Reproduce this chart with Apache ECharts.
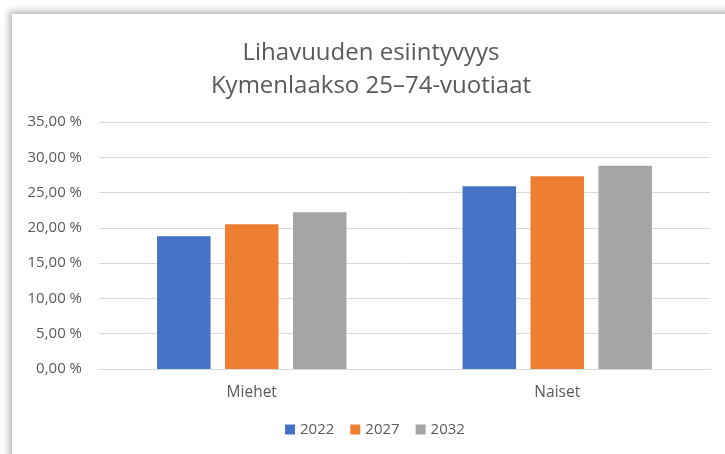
<!DOCTYPE html>
<html>
<head>
<meta charset="utf-8">
<script src="https://cdn.jsdelivr.net/npm/echarts@6/dist/echarts.min.js"></script>
<style>
  html, body { margin: 0; padding: 0; background: #fff; }
  #frame {
    position: absolute; left: 12px; top: 14px; width: 740px; height: 470px;
    background: #fff; box-shadow: -3px -3px 7px rgba(0,0,0,0.28);
  }
  #main { position: absolute; left: 0; top: 0; width: 725px; height: 454px; }
</style>
</head>
<body>
<div id="frame"></div>
<div id="main"></div>
<script>
// luokat ja sarjat
var categories = ["Miehet", "Naiset"];
var years = ["2022", "2027", "2032"];
var v2022 = [18.8, 25.9];
var v2027 = [20.5, 27.3];
var v2032 = [22.2, 28.8];
var yTicks = [0, 5, 10, 15, 20, 25, 30, 35];

var fontFam = "'Open Sans', Lato, sans-serif";
var textCol = "#595959";

var chart = echarts.init(document.getElementById("main"));

var option = {
  backgroundColor: "transparent",
  animation: false,
  color: ["#4472C4", "#ED7D31", "#A5A5A5"],
  title: {
    text: "Lihavuuden esiintyvyys\nKymenlaakso 25\u201374-vuotiaat",
    left: 366,
    top: 32,
    textAlign: "center",
    textStyle: {
      fontFamily: fontFam,
      fontWeight: "normal",
      fontSize: 24,
      lineHeight: 33,
      color: textCol
    }
  },
  legend: {
    data: years,
    bottom: 12,
    left: 280,
    itemWidth: 10,
    itemHeight: 10,
    itemGap: 16,
    icon: "rect",
    textStyle: { fontFamily: fontFam, fontSize: 15, color: textCol }
  },
  grid: {
    left: 99,
    right: 15,
    top: 122,
    bottom: 85
  },
  xAxis: {
    type: "category",
    data: categories,
    axisTick: { show: false },
    axisLine: { lineStyle: { color: "#d9d9d9", width: 1 } },
    axisLabel: { fontFamily: fontFam, fontSize: 15.5, color: textCol, margin: 16 }
  },
  yAxis: {
    type: "value",
    min: yTicks[0],
    max: yTicks[yTicks.length - 1],
    interval: 5,
    axisLine: { show: false },
    axisTick: { show: false },
    splitLine: { lineStyle: { color: "#d9d9d9", width: 1 } },
    axisLabel: {
      fontFamily: fontFam, fontSize: 15, color: textCol, margin: 17,
      formatter: function (v) { return v.toFixed(2).replace(".", ",") + " %"; }
    }
  },
  series: [
    { name: years[0], type: "bar", data: v2022, barGap: "27%", barCategoryGap: "38%" },
    { name: years[1], type: "bar", data: v2027, barGap: "27%", barCategoryGap: "38%" },
    { name: years[2], type: "bar", data: v2032, barGap: "27%", barCategoryGap: "38%" }
  ]
};

chart.setOption(option);
</script>
</body>
</html>
